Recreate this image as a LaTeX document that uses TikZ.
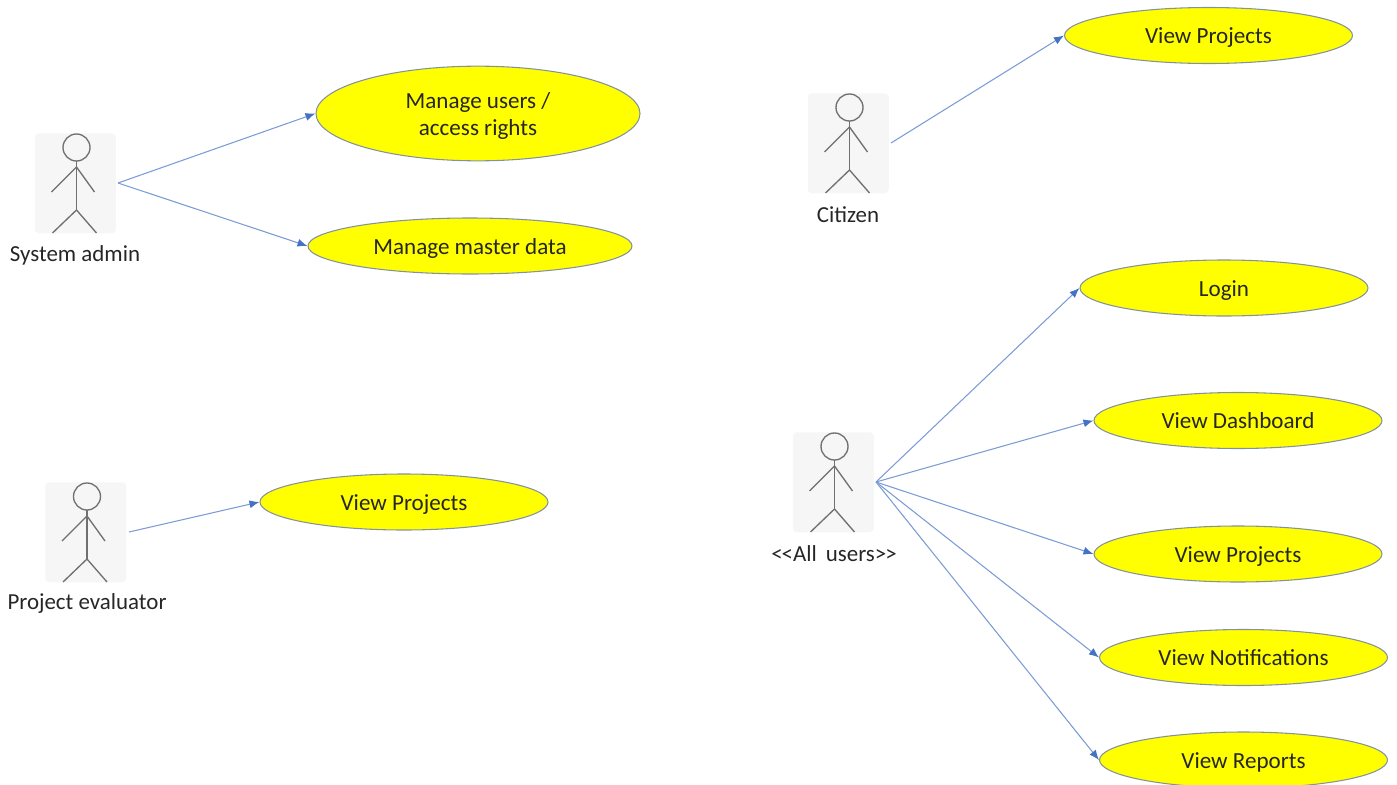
\documentclass[tikz,border=0pt]{standalone}
\usepackage{fontspec}
\setmainfont{Carlito}
\usetikzlibrary{shapes.geometric,arrows.meta}
\definecolor{linkblue}{HTML}{4472C4}
\definecolor{ucfill}{HTML}{FFFF00}
\definecolor{ucedge}{HTML}{8492A0}
\definecolor{actorbg}{HTML}{F6F6F6}
\definecolor{actorline}{HTML}{707070}
\definecolor{txt}{HTML}{262626}
\tikzset{
  usecase/.style={ellipse,draw=ucedge,fill=ucfill,line width=0.8pt,inner sep=0pt,minimum width=216pt,minimum height=42pt,align=center,text=txt,font=\fontsize{17.3pt}{20.2pt}\selectfont},
  actorbox/.style={rectangle,rounded corners=3pt,fill=actorbg,minimum width=60.75pt,minimum height=75pt,inner sep=0pt},
  actorlabel/.style={text=txt,inner sep=0pt,font=\fontsize{17.2pt}{18pt}\selectfont},
  stick/.style={draw=actorline,line width=1pt,fill=none},
  link/.style={draw=linkblue!70,line width=0.8pt,-{Latex[length=7.5pt,width=6pt,color=linkblue]}}
}
\newcommand{\ucline}[1]{\raisebox{-6pt}[0pt][0pt]{#1}}
\newcommand{\actorfig}[3]{%
  \node[actorbox,anchor=north west] (#1) at (#2,#3) {};
  \begin{scope}[shift={(#2,#3)}]
    \draw[stick] (42,-14.5) circle (13.5);
    \draw[stick] (17,-59) -- (42,-34) -- (60,-59);
    \draw[stick] (42,-28) -- (42,-77);
    \draw[stick] (18,-100) -- (42,-77) -- (62,-100);
  \end{scope}}
\begin{document}
\begin{tikzpicture}[x=0.75pt,y=0.75pt]
\useasboundingbox (0,0) rectangle (1397,-785);
\actorfig{adm}{34.5}{-133}
\actorfig{eva}{45}{-482}
\actorfig{cit}{807.5}{-93}
\actorfig{all}{792.5}{-432}
\node[actorlabel] (admL) at (75,-255.5) {System admin};
\node[actorlabel] (evaL) at (87,-603.5) {Project evaluator};
\node[actorlabel] (citL) at (848,-214.5) {Citizen};
\node[actorlabel] (allL) at (834,-554) {<\kern-0.8pt<All\, users>\kern-0.8pt>};
\node[usecase,minimum width=243pt,minimum height=71pt] (u1) at (478,-113.5) {\raisebox{-6.75pt}[0pt][0pt]{\begin{tabular}{@{}c@{}}Manage users /\\access rights\end{tabular}}};
\node[usecase,minimum width=243pt] (u2) at (470,-246) {\ucline{Manage master data}};
\node[usecase] (u3) at (404,-502) {\ucline{View Projects}};
\node[usecase] (u4) at (1208.5,-35.5) {\ucline{View Projects}};
\node[usecase] (u5) at (1224,-288) {\ucline{Login}};
\node[usecase] (u6) at (1238,-420.5) {\ucline{View Dashboard}};
\node[usecase] (u7) at (1238,-554) {\ucline{View Projects}};
\node[usecase] (u8) at (1243.5,-657.5) {\ucline{View Notifications}};
\node[usecase] (u9) at (1243.5,-760) {\ucline{View Reports}};
\coordinate (admS) at (118,-183);
\coordinate (evaS) at (129,-532);
\coordinate (citS) at (891,-143);
\coordinate (allS) at (876,-482);
\draw[link] (admS) -- (u1.west);
\draw[link] (admS) -- (u2.west);
\draw[link] (evaS) -- (u3.west);
\draw[link] (citS) -- (u4.west);
\draw[link] (allS) -- (u5.west);
\draw[link] (allS) -- (u6.west);
\draw[link] (allS) -- (u7.west);
\draw[link] (allS) -- (u8.west);
\draw[link] (allS) -- (u9.west);
\end{tikzpicture}
\end{document}
